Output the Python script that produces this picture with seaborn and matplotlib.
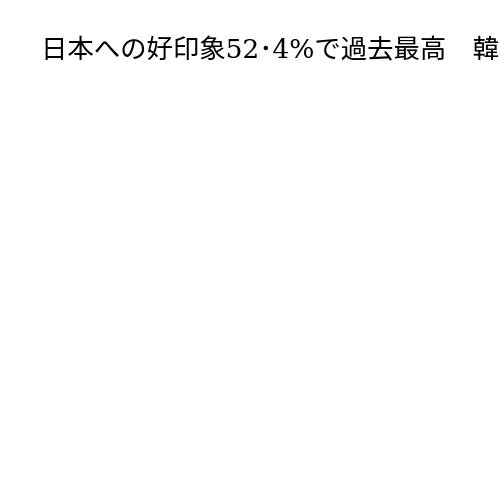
import matplotlib
matplotlib.use("Agg")
import matplotlib.pyplot as plt
import seaborn as sns

# Title text (the chart itself is empty, text runs off the right edge)
title_text = "日本への好印象52･4%で過去最高　韓"

sns.set_theme(style="white")
plt.rcParams['font.family'] = ['DejaVu Serif', 'Noto Sans CJK JP', 'DejaVu Sans']

fig = plt.figure(figsize=(5, 5), dpi=100)
fig.patch.set_facecolor("white")
ax = fig.add_axes([0, 0, 1, 1])
ax.set_axis_off()

fig.text(41 / 500, 1 - 51 / 500, title_text, fontsize=19, color="black",
         ha="left", va="center")

plt.savefig("out.png", dpi=100, facecolor="white")
plt.close()
